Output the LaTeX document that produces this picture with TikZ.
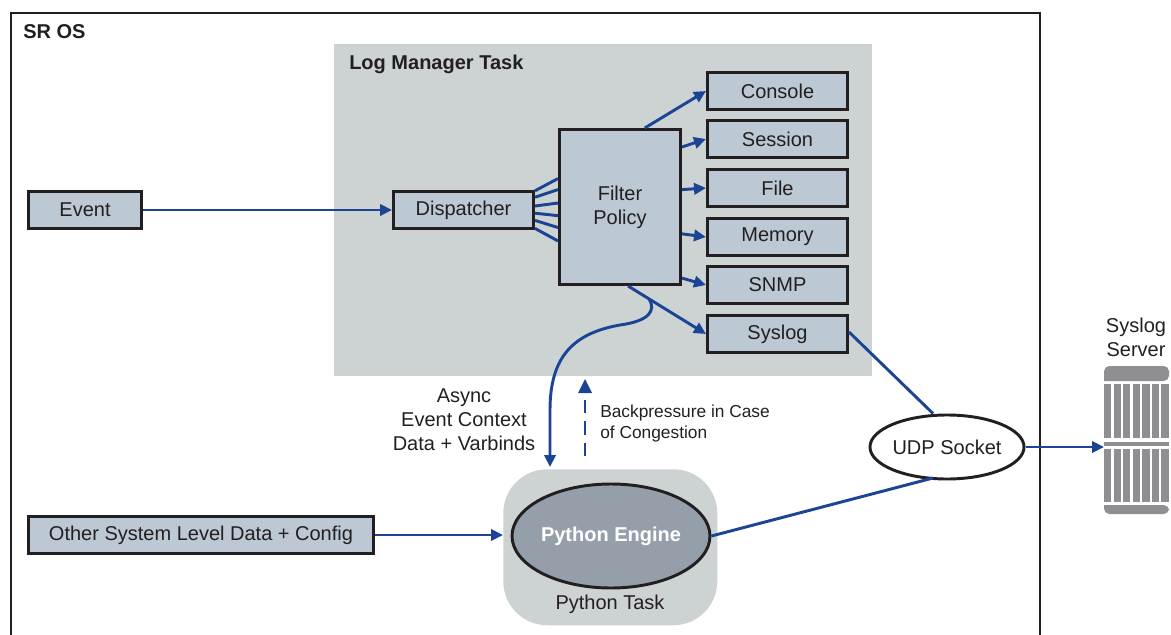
\documentclass[tikz,border=0pt]{standalone}
\usepackage{fontspec}
\setmainfont{Liberation Sans}
\usetikzlibrary{arrows.meta,shapes.geometric,calc}
\definecolor{boxfill}{HTML}{BCC8D4}
\definecolor{panel}{HTML}{CDD3D3}
\definecolor{linkblue}{HTML}{1B4594}
\definecolor{engine}{HTML}{959FAA}
\definecolor{rack}{HTML}{8F8E92}
\definecolor{ink}{HTML}{231F20}
\tikzset{
  x=0.75pt,y=-0.75pt,
  every node/.style={text=ink,font=\fontsize{15}{18}\selectfont,inner sep=0pt},
  sbox/.style={draw=ink,line width=2.2pt,fill=boxfill,align=center,anchor=north west},
  link/.style={draw=linkblue,line width=2.2pt,-{Triangle[length=9pt,width=8.5pt]}},
  plainlink/.style={draw=linkblue,line width=2.2pt},
  note/.style={font=\fontsize{15}{18}\selectfont,align=center},
  small/.style={font=\fontsize{13}{16}\selectfont,align=left,anchor=west},
  heading/.style={font=\fontsize{15}{18}\selectfont\bfseries,anchor=west},
}
\newcommand{\mybox}[6]{\node[sbox,minimum width=#4*0.75pt-2.2pt,minimum height=#5*0.75pt-2.2pt] (#1) at (#2+0.0,#3) {#6};}
\begin{document}
\begin{tikzpicture}
\useasboundingbox (0,0) rectangle (1171,635);
% outer frame
\draw[ink,line width=2.2pt] (11,635) -- (11,13) -- (1040,13) -- (1040,635);
\node[heading] (sros) at (23,32) {SR OS};
% panels
\fill[panel] (334,44) rectangle (872,376);
\node[heading] (lmt) at (349,64) {Log Manager Task};
\node[fill=panel,rounded corners=33pt,minimum width=214*0.75pt,minimum height=156*0.75pt,anchor=north west] (ptask) at (503,469) {};
% boxes
\mybox{event}{27}{190}{116}{40}{Event}
\mybox{disp}{392}{190}{143}{40}{Dispatcher}
\mybox{filter}{558}{128}{124}{158}{Filter\\Policy}
\mybox{console}{706}{71}{143}{40}{Console}
\mybox{session}{706}{119}{143}{40}{Session}
\mybox{file}{706}{168}{143}{40}{File}
\mybox{memory}{706}{217}{143}{40}{Memory}
\mybox{snmp}{706}{265}{143}{40}{SNMP}
\mybox{syslog}{706}{314}{143}{40}{Syslog}
\mybox{other}{27}{515}{348}{40}{Other System Level Data + Config}
% ellipses
\node[ellipse,draw=ink,line width=2.2pt,fill=engine,minimum width=196*0.75pt,minimum height=104*0.75pt,text=white,font=\fontsize{15}{18}\selectfont\bfseries] (py) at (611,536) {Python Engine};
\node[anchor=center] (ptlabel) at (610,604) {Python Task};
\node[ellipse,draw=ink,line width=2.2pt,fill=white,minimum width=148*0.75pt,minimum height=64*0.75pt] (udp) at (947,447) {UDP Socket};
% server
\node[fill=none,draw=none,minimum width=65*0.75pt,minimum height=149*0.75pt,anchor=north west] (server) at (1104,366) {};
\fill[rack,rounded corners=4pt] (1104,381) -- (1104,366) -- (1169,366) -- (1169,381) [sharp corners] -- cycle;
\fill[rack,rounded corners=4pt] (1104,505) -- (1104,514) -- (1169,514) -- (1169,505) [sharp corners] -- cycle;
\fill[rack] (1104,442) rectangle (1169,445.5);
\foreach \i in {0,...,6}{
  \fill[rack] (1104+\i*9.55,384) rectangle (1111.3+\i*9.55,438);
  \fill[rack] (1104+\i*9.55,449) rectangle (1111.3+\i*9.55,502);
}
\node[note] (srv) at (1136,337) {Syslog\\Server};
% labels
\node[note] (async) at (464,419.5) {Async\\Event Context\\Data + Varbinds};
\node[small] (back) at (600,423.5) {Backpressure in Case\\of Congestion};
% connectors
\draw[link] (event.east) -- (disp.west);
\draw[link] (other.east) -- (ptask.west |- other.east);
\foreach \a/\b in {0.02/0.32,0.18/0.39,0.40/0.475,0.58/0.555,0.76/0.63,0.96/0.715}{
  \draw[plainlink] ($(disp.north east)!\a!(disp.south east)$) -- ($(filter.north west)!\b!(filter.south west)$);
}
\draw[link] ($(filter.north west)!0.70!(filter.north east)$) -- (console.west);
\draw[link] ($(filter.north east)!0.12!(filter.south east)$) -- (session.west);
\draw[link] ($(filter.north east)!0.39!(filter.south east)$) -- (file.west);
\draw[link] ($(filter.north east)!0.67!(filter.south east)$) -- (memory.west);
\draw[link] ($(filter.north east)!0.95!(filter.south east)$) -- (snmp.west);
\draw[link] ($(filter.south west)!0.565!(filter.south east)$) coordinate (fs) -- (syslog.west);
\coordinate (tap) at ($(fs)!0.27!(syslog.west)$);
\coordinate (ptop) at (550,467);
\draw[link] (tap) .. controls (656,310) and (650,321) .. (620,325) .. controls (575,333) and (550,355) .. (550,410) -- (ptop);
\draw[plainlink] (syslog.east |- 0,332) -- (udp.north -| 933,0);
\coordinate (btail) at (585,456);
\coordinate (bhead) at (585,379);
\draw[draw=linkblue,line width=2.2pt,dash pattern=on 10pt off 6pt] (btail) -- (585,392);
\fill[linkblue] (bhead) -- (592,393) -- (578,393) -- cycle;
\draw[plainlink] (py.east) -- (933,478);
\draw[link] (udp.east) -- (server.west |- udp.east);
\end{tikzpicture}
\end{document}
